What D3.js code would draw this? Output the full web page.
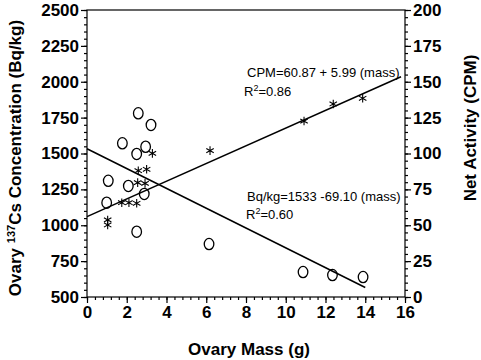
<!DOCTYPE html>
<html><head><meta charset="utf-8">
<script src="https://cdn.jsdelivr.net/npm/d3@7/dist/d3.min.js"></script>
<style>
body{margin:0;background:#fff;}
svg{display:block;}
text{font-family:"Liberation Sans",Arial,sans-serif;fill:#000;}
</style></head>
<body>
<svg id="chart" width="481" height="360"></svg>
<script>
// ---- data ----
const bqMass = [2.58, 3.22, 1.78, 2.50, 2.95, 1.07, 2.08, 2.88, 0.99, 2.50, 6.14, 10.87, 12.35, 13.89];
const bqValues = [1780, 1699, 1571, 1497, 1547, 1310, 1274, 1218, 1157, 955, 869, 674, 653, 639];
const cpmMass = [3.29, 2.58, 3.00, 2.55, 2.92, 1.75, 2.11, 2.50, 1.04, 1.04, 6.19, 10.92, 12.39, 13.87];
const cpmValues = [100.1, 88.0, 89.0, 79.7, 79.2, 65.7, 65.7, 65.3, 53.7, 50.2, 102.0, 122.6, 134.5, 138.5];
const bqFitMass = [0, 14];
const bqFitValues = [1533, 566];
const cpmFitMass = [0, 15.8];
const cpmFitValues = [56, 153.5];
const xTicks = [0, 2, 4, 6, 8, 10, 12, 14, 16];
const leftTicks = [500, 750, 1000, 1250, 1500, 1750, 2000, 2250, 2500];
const rightTicks = [0, 25, 50, 75, 100, 125, 150, 175, 200];

const svg = d3.select("#chart");
const L = 87, R = 405, T = 10, B = 297;
const x = d3.scaleLinear().domain([0, 16]).range([L, R]);
const yL = d3.scaleLinear().domain([500, 2500]).range([B, T]);
const yR = d3.scaleLinear().domain([0, 200]).range([B, T]);

// frame
svg.append("rect").attr("x", L).attr("y", T).attr("width", R - L).attr("height", B - T)
  .attr("fill", "none").attr("stroke", "#000").attr("stroke-width", 1.2);

function styleAxis(g){
  g.select(".domain").remove();
  g.selectAll("line").attr("stroke", "#000").attr("stroke-width", 1.2);
  g.selectAll("text").attr("font-size", "17px").attr("font-weight", "bold")
    .style("font-family", "'Liberation Sans',Arial,sans-serif");
}
function minor(scale, step){
  const d = scale.domain();
  const out = [];
  for (let v = d[0]; v <= d[1] + 1e-9; v += step) out.push(+v.toFixed(4));
  return out;
}

// minor ticks
svg.append("g").attr("transform", `translate(0,${B})`)
  .call(d3.axisBottom(x).tickValues(minor(x, 0.4)).tickSize(3).tickFormat(""))
  .call(styleAxis);
svg.append("g").attr("transform", `translate(${L},0)`)
  .call(d3.axisLeft(yL).tickValues(minor(yL, 50)).tickSize(3).tickFormat(""))
  .call(styleAxis);
svg.append("g").attr("transform", `translate(${R},0)`)
  .call(d3.axisRight(yR).tickValues(minor(yR, 5)).tickSize(3).tickFormat(""))
  .call(styleAxis);

// major ticks
svg.append("g").attr("transform", `translate(0,${B})`)
  .call(d3.axisBottom(x).tickValues(xTicks).tickSize(6).tickPadding(3).tickFormat(d3.format("d")))
  .call(styleAxis);
svg.append("g").attr("transform", `translate(${L},0)`)
  .call(d3.axisLeft(yL).tickValues(leftTicks).tickSize(6).tickPadding(2).tickFormat(d3.format("d")))
  .call(styleAxis);
svg.append("g").attr("transform", `translate(${R},0)`)
  .call(d3.axisRight(yR).tickValues(rightTicks).tickSize(6).tickPadding(2).tickFormat(d3.format("d")))
  .call(styleAxis);

// fit lines
const bqFit = bqFitMass.map((m, i) => [m, bqFitValues[i]]);
const cpmFit = cpmFitMass.map((m, i) => [m, cpmFitValues[i]]);
svg.append("path").datum(bqFit)
  .attr("d", d3.line().x(d => x(d[0])).y(d => yL(d[1])))
  .attr("fill", "none").attr("stroke", "#000").attr("stroke-width", 1.5);
svg.append("path").datum(cpmFit)
  .attr("d", d3.line().x(d => x(d[0])).y(d => yR(d[1])))
  .attr("fill", "none").attr("stroke", "#000").attr("stroke-width", 1.5);

// circles (Bq/kg)
svg.append("g").selectAll("ellipse").data(bqMass.map((m, i) => [m, bqValues[i]])).join("ellipse")
  .attr("cx", d => x(d[0])).attr("cy", d => yL(d[1]))
  .attr("rx", 4.8).attr("ry", 5.6)
  .attr("fill", "none").attr("stroke", "#000").attr("stroke-width", 1.3);

// asterisks (CPM)
const star = (() => {
  const r = 4.3;
  let p = "";
  [90, 30, 150].forEach(a => {
    const dx = r * Math.cos(a * Math.PI / 180), dy = r * Math.sin(a * Math.PI / 180);
    p += `M${-dx},${-dy}L${dx},${dy}`;
  });
  return p;
})();
svg.append("g").selectAll("path").data(cpmMass.map((m, i) => [m, cpmValues[i]])).join("path")
  .attr("transform", d => `translate(${x(d[0])},${yR(d[1])})`)
  .attr("d", star).attr("fill", "none").attr("stroke", "#000").attr("stroke-width", 1.1);

// annotations
const ann = svg.append("g").attr("font-size", "13px");
ann.append("text").attr("x", 247).attr("y", 77).text("CPM=60.87 + 5.99 (mass)");
const r1 = ann.append("text").attr("x", 244).attr("y", 96);
r1.append("tspan").text("R");
r1.append("tspan").attr("dy", -5).attr("font-size", "9px").text("2");
r1.append("tspan").attr("dy", 5).text("=0.86");
ann.append("text").attr("x", 247).attr("y", 201).text("Bq/kg=1533 -69.10 (mass)");
const r2 = ann.append("text").attr("x", 246).attr("y", 219);
r2.append("tspan").text("R");
r2.append("tspan").attr("dy", -5).attr("font-size", "9px").text("2");
r2.append("tspan").attr("dy", 5).text("=0.60");

// axis titles
svg.append("text").attr("x", (L + R) / 2 + 3).attr("y", 355).attr("text-anchor", "middle")
  .attr("font-size", "17px").attr("font-weight", "bold").text("Ovary Mass (g)");
const lt = svg.append("text").attr("transform", "translate(21,158) rotate(-90)")
  .attr("text-anchor", "middle").attr("font-size", "17px").attr("font-weight", "bold");
lt.append("tspan").text("Ovary ");
lt.append("tspan").attr("dy", -6).attr("font-size", "11px").text("137");
lt.append("tspan").attr("dy", 6).text("Cs Concentration (Bq/kg)");
svg.append("text").attr("transform", "translate(476,128) rotate(-90)")
  .attr("text-anchor", "middle").attr("font-size", "17px").attr("font-weight", "bold")
  .text("Net Activity (CPM)");
</script>
</body></html>
